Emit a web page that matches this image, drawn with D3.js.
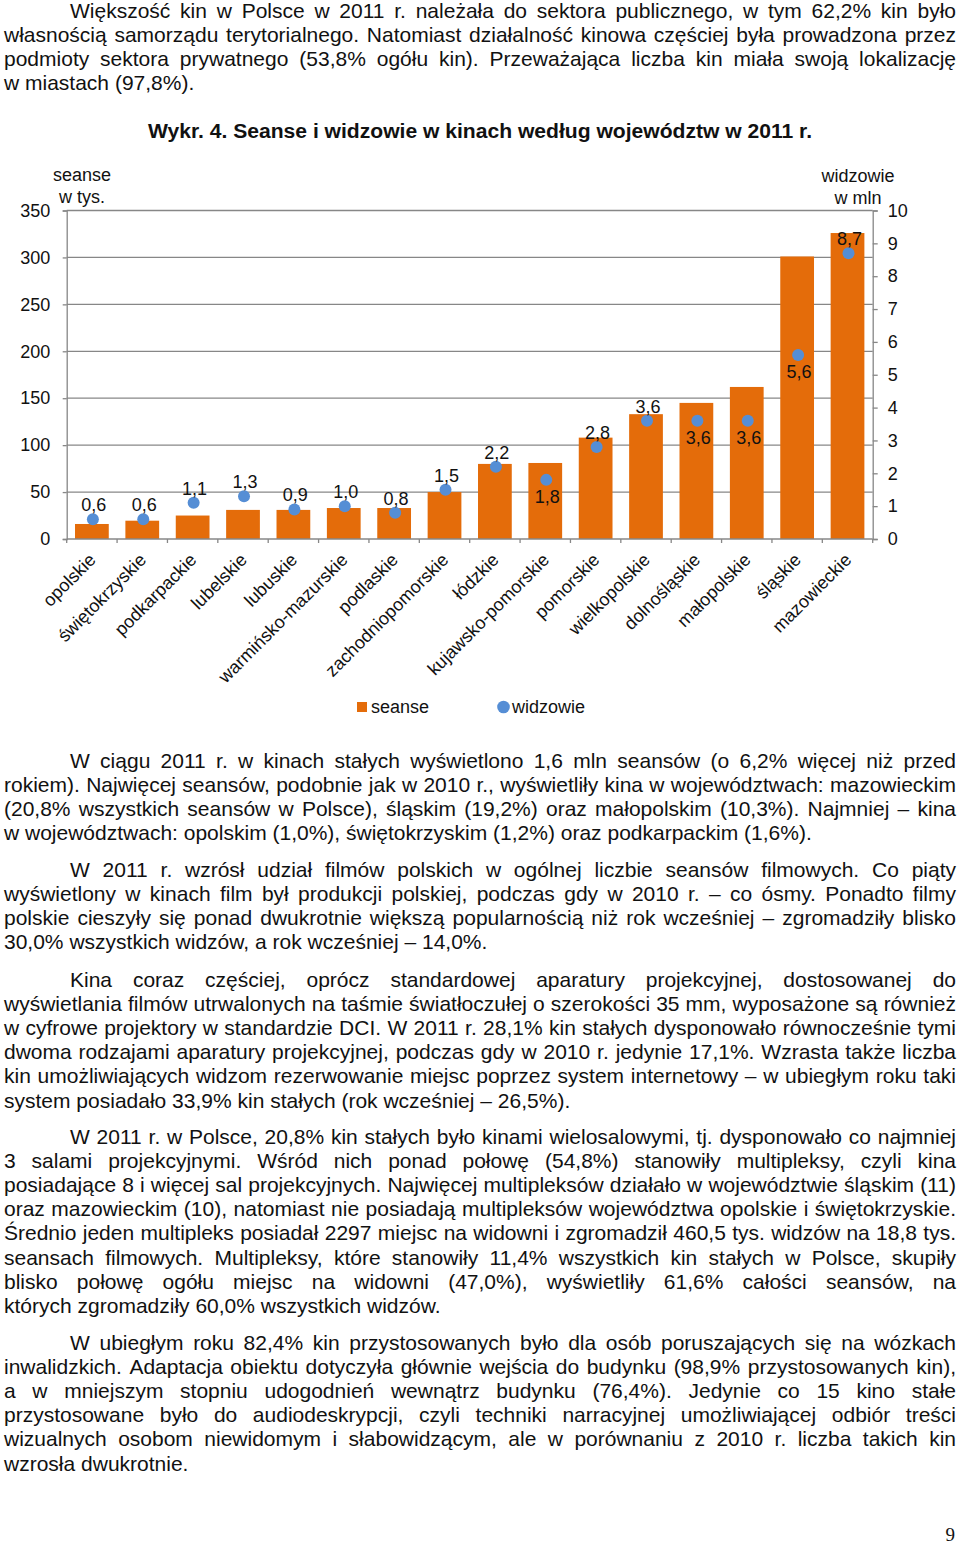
<!DOCTYPE html>
<html>
<head>
<meta charset="utf-8">
<script src="https://cdn.jsdelivr.net/npm/d3@7"></script>
<style>
  html, body { margin: 0; padding: 0; background: #fff; }
  svg { display: block; }
</style>
</head>
<body>
<svg id="page" width="960" height="1545"></svg>
<script>
// ---------------- DATA ----------------
const categories = ['opolskie','świętokrzyskie','podkarpackie','lubelskie','lubuskie','warmińsko-mazurskie','podlaskie','zachodniopomorskie','łódzkie','kujawsko-pomorskie','pomorskie','wielkopolskie','dolnośląskie','małopolskie','śląskie','mazowieckie'];
const seanse = [16, 19.5, 25, 31, 31, 33, 33, 50, 80, 81, 108, 133, 145, 162, 301, 326];   // w tys.
const widzowie = [0.6, 0.6, 1.1, 1.3, 0.9, 1.0, 0.8, 1.5, 2.2, 1.8, 2.8, 3.6, 3.6, 3.6, 5.6, 8.7]; // w mln
const leftTicks = [0, 50, 100, 150, 200, 250, 300, 350];
const rightTicks = [0, 1, 2, 3, 4, 5, 6, 7, 8, 9, 10];
const seriesNames = ['seanse', 'widzowie'];
const leftAxisTitle = ['seanse', 'w tys.'];
const rightAxisTitle = ['widzowie', 'w mln'];
const chartTitle = 'Wykr. 4. Seanse i widzowie w kinach według województw w 2011 r.';
// label placement of the widzowie data labels (as in the original)
const widzLabelBelow = [false,false,false,false,false,false,false,false,false,true,false,false,true,true,true,false];

const para1 = [
 'Większość kin w Polsce w 2011 r. należała do sektora publicznego, w tym 62,2% kin było',
 'własnością samorządu terytorialnego. Natomiast działalność kinowa częściej była prowadzona przez',
 'podmioty sektora prywatnego (53,8% ogółu kin). Przeważająca liczba kin miała swoją lokalizację',
 'w miastach (97,8%).'
];
const para2 = [
 'W ciągu 2011 r. w kinach stałych wyświetlono 1,6 mln seansów (o 6,2% więcej niż przed',
 'rokiem). Najwięcej seansów, podobnie jak w 2010 r., wyświetliły kina w województwach: mazowieckim',
 '(20,8% wszystkich seansów w Polsce), śląskim (19,2%) oraz małopolskim (10,3%). Najmniej – kina',
 'w województwach: opolskim (1,0%), świętokrzyskim (1,2%) oraz podkarpackim (1,6%).'
];
const para3 = [
 'W 2011 r. wzrósł udział filmów polskich w ogólnej liczbie seansów filmowych. Co piąty',
 'wyświetlony w kinach film był produkcji polskiej, podczas gdy w 2010 r. – co ósmy. Ponadto filmy',
 'polskie cieszyły się ponad dwukrotnie większą popularnością niż rok wcześniej – zgromadziły blisko',
 '30,0% wszystkich widzów, a rok wcześniej – 14,0%.'
];
const para4 = [
 'Kina coraz częściej, oprócz standardowej aparatury projekcyjnej, dostosowanej do',
 'wyświetlania filmów utrwalonych na taśmie światłoczułej o szerokości 35 mm, wyposażone są również',
 'w cyfrowe projektory w standardzie DCI. W 2011 r. 28,1% kin stałych dysponowało równocześnie tymi',
 'dwoma rodzajami aparatury projekcyjnej, podczas gdy w 2010 r. jedynie 17,1%. Wzrasta także liczba',
 'kin umożliwiających widzom rezerwowanie miejsc poprzez system internetowy – w ubiegłym roku taki',
 'system posiadało 33,9% kin stałych (rok wcześniej – 26,5%).'
];
const para5 = [
 'W 2011 r. w Polsce, 20,8% kin stałych było kinami wielosalowymi, tj. dysponowało co najmniej',
 '3 salami projekcyjnymi. Wśród nich ponad połowę (54,8%) stanowiły multipleksy, czyli kina',
 'posiadające 8 i więcej sal projekcyjnych. Najwięcej multipleksów działało w województwie śląskim (11)',
 'oraz mazowieckim (10), natomiast nie posiadają multipleksów województwa opolskie i świętokrzyskie.',
 'Średnio jeden multipleks posiadał 2297 miejsc na widowni i zgromadził 460,5 tys. widzów na 18,8 tys.',
 'seansach filmowych. Multipleksy, które stanowiły 11,4% wszystkich kin stałych w Polsce, skupiły',
 'blisko połowę ogółu miejsc na widowni (47,0%), wyświetliły 61,6% całości seansów, na',
 'których zgromadziły 60,0% wszystkich widzów.'
];
const para6 = [
 'W ubiegłym roku 82,4% kin przystosowanych było dla osób poruszających się na wózkach',
 'inwalidzkich. Adaptacja obiektu dotyczyła głównie wejścia do budynku (98,9% przystosowanych kin),',
 'a w mniejszym stopniu udogodnień wewnątrz budynku (76,4%). Jedynie co 15 kino stałe',
 'przystosowane było do audiodeskrypcji, czyli techniki narracyjnej umożliwiającej odbiór treści',
 'wizualnych osobom niewidomym i słabowidzącym, ale w porównaniu z 2010 r. liczba takich kin',
 'wzrosła dwukrotnie.'
];
const pageNumber = '9';

// ---------------- SETUP ----------------
const svg = d3.select('#page');
svg.append('rect').attr('width', 960).attr('height', 1545).attr('fill', '#fff');

const CHART_FONT = '"Liberation Sans", Arial, Helvetica, sans-serif';
const TEXT_FONT = '"Liberation Sans", Arial, Helvetica, sans-serif';

function measure(str, family, size, weight) {
  const t = svg.append('text').attr('x', -1000).attr('y', -1000)
    .style('font-family', family).style('font-size', size + 'px').style('font-weight', weight || 'normal').text(str);
  const w = t.node().getComputedTextLength();
  t.remove();
  return w;
}

const TEXT_SIZE = 21;
const H_FACTOR = 1.0;
const LEFT = 4, RIGHT = 956, INDENT = 66, LH = 24.1;

function drawPara(lines, baseline0) {
  const g = svg.append('g').attr('class', 'para');
  const space = measure('a a', TEXT_FONT, TEXT_SIZE) - measure('aa', TEXT_FONT, TEXT_SIZE);
  lines.forEach((ln, i) => {
    const isLast = i === lines.length - 1;
    const left = i === 0 ? LEFT + INDENT : LEFT;
    const y = baseline0 + i * LH;
    const words = ln.split(' ');
    const texts = words.map(w => g.append('text')
      .attr('y', y)
      .style('font-family', TEXT_FONT)
      .style('font-size', TEXT_SIZE + 'px')
      .attr('fill', '#111')
      .text(w));
    const widths = texts.map(t => t.node().getComputedTextLength());
    let scale = H_FACTOR;
    const n = words.length;
    const sum = d3.sum(widths) * scale;
    let gap = space * scale;
    if (!isLast && n > 1) {
      gap = ((RIGHT - left) - sum) / (n - 1);
      if (gap < space * 0.6) {
        gap = space * 0.6;
        scale = ((RIGHT - left) - gap * (n - 1)) / d3.sum(widths);
      }
    }
    let x = left;
    texts.forEach((t, k) => {
      t.attr('x', x);
      if (Math.abs(scale - 1) > 0.001) {
        t.attr('textLength', widths[k] * scale).attr('lengthAdjust', 'spacingAndGlyphs');
      }
      x += widths[k] * scale + gap;
    });
  });
}

drawPara(para1, 18);
drawPara(para2, 768);
drawPara(para3, 877);
drawPara(para4, 987);
drawPara(para5, 1144);
drawPara(para6, 1350);

// title
svg.append('text')
  .attr('x', 148).attr('y', 138)
  .attr('textLength', 664).attr('lengthAdjust', 'spacingAndGlyphs')
  .style('font-family', TEXT_FONT).style('font-size', '20px').style('font-weight', 'bold')
  .attr('fill', '#111')
  .text(chartTitle);

// page number
svg.append('text')
  .attr('x', 955).attr('y', 1541).attr('text-anchor', 'end')
  .style('font-family', '"Liberation Serif", "Times New Roman", serif').style('font-size', '19px')
  .attr('fill', '#111')
  .text(pageNumber);

// ---------------- CHART ----------------
const plotLeft = 66.7, plotRight = 872.7, plotTop = 210.5, plotBottom = 539;
const BAR_COLOR = '#E46C0A';
const DOT_COLOR = '#558ED5';
const GRID_COLOR = '#878787';

const x = d3.scaleBand().domain(categories).range([plotLeft, plotRight]).paddingInner(0.33).paddingOuter(0.165);
const yL = d3.scaleLinear().domain([0, 350]).range([plotBottom, plotTop]);
const yR = d3.scaleLinear().domain([0, 10]).range([plotBottom, plotTop]);

const chart = svg.append('g').attr('class', 'chart');

// gridlines
chart.append('g').selectAll('line').data(leftTicks.filter(d => d > 0)).join('line')
  .attr('x1', plotLeft).attr('x2', plotRight)
  .attr('y1', d => yL(d)).attr('y2', d => yL(d))
  .attr('stroke', GRID_COLOR).attr('stroke-width', 1.3);

// left axis
const axL = chart.append('g').attr('transform', `translate(${plotLeft},0)`)
  .call(d3.axisLeft(yL).tickValues(leftTicks).tickSize(4).tickPadding(12.5).tickFormat(d3.format('d')));
axL.select('.domain').attr('stroke', GRID_COLOR).attr('stroke-width', 1.3);
axL.selectAll('.tick line').attr('stroke', GRID_COLOR).attr('stroke-width', 1.3);
axL.selectAll('text').style('font-family', CHART_FONT).style('font-size', '18px').attr('fill', '#111');

// right axis
const axR = chart.append('g').attr('transform', `translate(${plotRight},0)`)
  .call(d3.axisRight(yR).tickValues(rightTicks).tickSize(5).tickPadding(10).tickFormat(d3.format('d')));
axR.select('.domain').attr('stroke', GRID_COLOR).attr('stroke-width', 1.3);
axR.selectAll('.tick line').attr('stroke', GRID_COLOR).attr('stroke-width', 1.3);
axR.selectAll('text').style('font-family', CHART_FONT).style('font-size', '18px').attr('fill', '#111');

// bars
chart.append('g').selectAll('rect').data(categories).join('rect')
  .attr('x', d => x(d))
  .attr('width', x.bandwidth())
  .attr('y', (d, i) => yL(seanse[i]))
  .attr('height', (d, i) => yL(0) - yL(seanse[i]))
  .attr('fill', BAR_COLOR);

// bottom axis line + boundary ticks
chart.append('line').attr('x1', plotLeft).attr('x2', plotRight)
  .attr('y1', yL(0)).attr('y2', yL(0)).attr('stroke', GRID_COLOR).attr('stroke-width', 1.3);
const step = x.step();
const boundaries = d3.range(categories.length + 1).map(i => x.range()[0] + i * step);
chart.append('g').selectAll('line').data(boundaries).join('line')
  .attr('x1', d => d).attr('x2', d => d)
  .attr('y1', yL(0)).attr('y2', yL(0) + 4)
  .attr('stroke', GRID_COLOR).attr('stroke-width', 1.3);

// category labels
chart.append('g').selectAll('text').data(categories).join('text')
  .attr('transform', d => `translate(${x(d) + x.bandwidth() / 2 + 5},${plotBottom + 22}) rotate(-45)`)
  .attr('text-anchor', 'end')
  .style('font-family', CHART_FONT).style('font-size', '18px').attr('fill', '#111')
  .text(d => d);

// dots
chart.append('g').selectAll('circle').data(categories).join('circle')
  .attr('cx', d => x(d) + x.bandwidth() / 2 + 1)
  .attr('cy', (d, i) => yR(widzowie[i]))
  .attr('r', 6)
  .attr('fill', DOT_COLOR);

// data labels
const fmt = v => v.toFixed(1).replace('.', ',');
chart.append('g').selectAll('text').data(categories).join('text')
  .attr('x', d => x(d) + x.bandwidth() / 2 + 2)
  .attr('y', (d, i) => yR(widzowie[i]) + (widzLabelBelow[i] ? 23 : -8))
  .attr('text-anchor', 'middle')
  .style('font-family', CHART_FONT).style('font-size', '18px').attr('fill', '#111')
  .text((d, i) => fmt(widzowie[i]));

// axis titles
const at = chart.append('g').style('font-family', CHART_FONT).style('font-size', '18px').attr('fill', '#111');
leftAxisTitle.forEach((t, i) => at.append('text').attr('x', 82).attr('y', 181 + i * 22).attr('text-anchor', 'middle').text(t));
rightAxisTitle.forEach((t, i) => at.append('text').attr('x', 858).attr('y', 182 + i * 22).attr('text-anchor', 'middle').text(t));

// legend
const lg = chart.append('g').style('font-family', CHART_FONT).style('font-size', '18px').attr('fill', '#111');
lg.append('rect').attr('x', 357).attr('y', 702).attr('width', 10).attr('height', 10).attr('fill', BAR_COLOR);
lg.append('text').attr('x', 371).attr('y', 713).text(seriesNames[0]);
lg.append('circle').attr('cx', 503.5).attr('cy', 707).attr('r', 6.3).attr('fill', DOT_COLOR);
lg.append('text').attr('x', 512).attr('y', 713).text(seriesNames[1]);
</script>
</body>
</html>
